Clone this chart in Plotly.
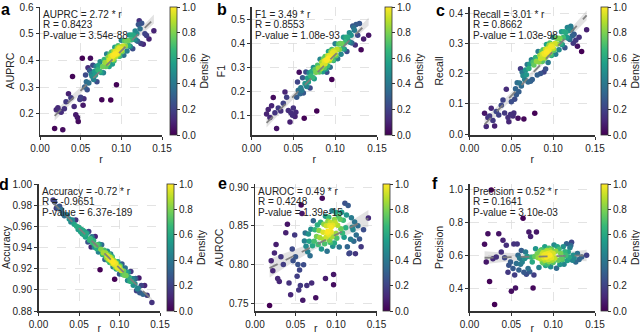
import numpy as np
import plotly.graph_objects as go

# shared x values (r) for every panel
r = [0.018, 0.020, 0.022, 0.024, 0.026, 0.028, 0.030, 0.032, 0.035, 0.038,
     0.040, 0.042, 0.044, 0.046, 0.047, 0.049, 0.050, 0.052, 0.053, 0.054,
     0.055, 0.056, 0.057, 0.058, 0.059, 0.060, 0.061, 0.062, 0.063, 0.064,
     0.065, 0.066, 0.067, 0.068, 0.069, 0.070, 0.071, 0.072, 0.073, 0.074,
     0.075, 0.076, 0.077, 0.078, 0.079, 0.080, 0.081, 0.082, 0.083, 0.084,
     0.085, 0.085, 0.086, 0.087, 0.087, 0.088, 0.088, 0.089, 0.089, 0.090,
     0.090, 0.091, 0.091, 0.092, 0.092, 0.093, 0.093, 0.094, 0.094, 0.095,
     0.095, 0.096, 0.096, 0.097, 0.097, 0.098, 0.098, 0.099, 0.100, 0.100,
     0.101, 0.102, 0.103, 0.104, 0.105, 0.106, 0.107, 0.108, 0.109, 0.110,
     0.111, 0.112, 0.113, 0.114, 0.115, 0.116, 0.117, 0.118, 0.119, 0.120,
     0.121, 0.122, 0.123, 0.124, 0.125, 0.127, 0.129, 0.131, 0.134, 0.140]

auprc = [0.144, 0.215, 0.222, 0.210, 0.205, 0.140, 0.218, 0.245, 0.275, 0.260,
         0.339, 0.227, 0.196, 0.186, 0.171, 0.253, 0.262, 0.408, 0.232, 0.256,
         0.300, 0.345, 0.320, 0.290, 0.372, 0.315, 0.362, 0.408, 0.350, 0.340,
         0.382, 0.328, 0.359, 0.344, 0.378, 0.320, 0.365, 0.381, 0.360, 0.395,
         0.354, 0.252, 0.377, 0.353, 0.403, 0.392, 0.377, 0.424, 0.389, 0.412,
         0.377, 0.401, 0.424, 0.251, 0.416, 0.405, 0.431, 0.386, 0.419, 0.417,
         0.404, 0.433, 0.398, 0.424, 0.449, 0.414, 0.434, 0.424, 0.308, 0.446,
         0.428, 0.424, 0.455, 0.416, 0.443, 0.450, 0.415, 0.443, 0.438, 0.475,
         0.432, 0.454, 0.419, 0.473, 0.454, 0.473, 0.435, 0.473, 0.456, 0.495,
         0.452, 0.477, 0.495, 0.443, 0.494, 0.479, 0.510, 0.476, 0.501, 0.472,
         0.534, 0.548, 0.518, 0.463, 0.539, 0.460, 0.500, 0.493, 0.480, 0.511]

f1 = [0.105, 0.124, 0.090, 0.140, 0.174, 0.110, 0.044, 0.130, 0.118, 0.150,
      0.197, 0.175, 0.120, 0.072, 0.110, 0.100, 0.130, 0.095, 0.112, 0.175,
      0.239, 0.205, 0.280, 0.190, 0.215, 0.204, 0.257, 0.193, 0.087, 0.233,
      0.281, 0.220, 0.256, 0.239, 0.278, 0.214, 0.265, 0.283, 0.259, 0.300,
      0.253, 0.292, 0.280, 0.118, 0.310, 0.298, 0.281, 0.335, 0.295, 0.322,
      0.282, 0.310, 0.337, 0.299, 0.327, 0.316, 0.346, 0.294, 0.332, 0.331,
      0.280, 0.349, 0.308, 0.339, 0.367, 0.328, 0.351, 0.338, 0.301, 0.365,
      0.345, 0.250, 0.376, 0.332, 0.362, 0.370, 0.330, 0.364, 0.357, 0.400,
      0.350, 0.377, 0.337, 0.399, 0.376, 0.401, 0.356, 0.400, 0.380, 0.427,
      0.377, 0.406, 0.427, 0.367, 0.427, 0.409, 0.446, 0.406, 0.436, 0.403,
      0.474, 0.468, 0.456, 0.395, 0.481, 0.435, 0.485, 0.375, 0.420, 0.436]

recall = [0.069, 0.025, 0.055, 0.060, 0.085, 0.045, 0.027, 0.075, 0.063, 0.095,
          0.113, 0.070, 0.148, 0.055, 0.041, 0.065, 0.107, 0.060, 0.070, 0.115,
          0.150, 0.130, 0.170, 0.052, 0.140, 0.169, 0.216, 0.159, 0.204, 0.193,
          0.050, 0.180, 0.212, 0.196, 0.230, 0.172, 0.217, 0.232, 0.175, 0.246,
          0.180, 0.238, 0.228, 0.069, 0.253, 0.241, 0.195, 0.273, 0.238, 0.260,
          0.200, 0.250, 0.272, 0.240, 0.264, 0.253, 0.279, 0.205, 0.267, 0.264,
          0.251, 0.280, 0.215, 0.271, 0.296, 0.261, 0.281, 0.270, 0.237, 0.293,
          0.275, 0.270, 0.301, 0.262, 0.289, 0.295, 0.260, 0.289, 0.283, 0.320,
          0.277, 0.299, 0.264, 0.317, 0.298, 0.317, 0.279, 0.316, 0.299, 0.338,
          0.295, 0.319, 0.338, 0.285, 0.336, 0.320, 0.352, 0.317, 0.342, 0.313,
          0.356, 0.346, 0.325, 0.300, 0.330, 0.310, 0.290, 0.320, 0.273, 0.345]

accuracy = [0.985, 0.983, 0.977, 0.978, 0.979, 0.976, 0.972, 0.970, 0.971, 0.967,
            0.964, 0.966, 0.962, 0.966, 0.960, 0.957, 0.959, 0.955, 0.957, 0.953,
            0.956, 0.952, 0.955, 0.950, 0.953, 0.9538, 0.9451, 0.9551, 0.9468, 0.9484,
            0.9405, 0.9502, 0.9442, 0.9467, 0.9403, 0.9504, 0.9421, 0.9389, 0.9426, 0.9358,
            0.9431, 0.919, 0.9384, 0.9425, 0.9333, 0.9350, 0.9375, 0.9287, 0.9348, 0.9304,
            0.9365, 0.9321, 0.9278, 0.9334, 0.9290, 0.9307, 0.9259, 0.9339, 0.9279, 0.9280,
            0.9304, 0.9249, 0.9313, 0.9261, 0.9217, 0.9278, 0.9242, 0.9258, 0.910, 0.9215,
            0.9247, 0.9252, 0.9196, 0.9264, 0.9216, 0.9201, 0.9265, 0.9209, 0.9218, 0.9150,
            0.9227, 0.9183, 0.9244, 0.9144, 0.9177, 0.9138, 0.9206, 0.9135, 0.9163, 0.9088,
            0.9165, 0.9117, 0.9082, 0.9174, 0.9079, 0.9104, 0.9044, 0.9105, 0.9057, 0.9106,
            0.8991, 0.9007, 0.9016, 0.9112, 0.8973, 0.9042, 0.8959, 0.9041, 0.895, 0.888]

auroc = [0.747, 0.805, 0.792, 0.815, 0.826, 0.782, 0.778, 0.810, 0.800, 0.841,
         0.852, 0.776, 0.761, 0.820, 0.805, 0.838, 0.810, 0.785, 0.800, 0.767,
         0.793, 0.773, 0.877, 0.866, 0.754, 0.7996, 0.8305, 0.8406, 0.8235, 0.773,
         0.8165, 0.8393, 0.8302, 0.8115, 0.8456, 0.776, 0.8242, 0.8567, 0.8300, 0.8449,
         0.757, 0.8362, 0.8511, 0.8260, 0.8441, 0.8350, 0.8547, 0.8200, 0.8855, 0.8418,
         0.8327, 0.8519, 0.8267, 0.782, 0.8624, 0.8357, 0.8501, 0.8410, 0.8170, 0.8559,
         0.8431, 0.8388, 0.8612, 0.8313, 0.8505, 0.8542, 0.8286, 0.8483, 0.8419, 0.8696,
         0.8360, 0.8508, 0.8236, 0.787, 0.774, 0.8582, 0.8278, 0.8539, 0.8400, 0.8672,
         0.8341, 0.8506, 0.8623, 0.8228, 0.8585, 0.8461, 0.8674, 0.8407, 0.8572, 0.8353,
         0.8790, 0.8475, 0.8640, 0.8229, 0.8762, 0.814, 0.815, 0.8328, 0.8605, 0.8482,
         0.845, 0.830, 0.855, 0.814, 0.838, 0.850, 0.833, 0.823, 0.845, 0.860]

precision = [0.668, 0.560, 0.732, 0.440, 1.000, 0.580, 0.300, 0.590, 0.732, 0.620,
             0.692, 0.585, 0.662, 0.497, 0.540, 0.560, 0.380, 0.520, 0.670, 0.480,
             0.400, 0.550, 0.670, 0.600, 0.510, 0.583, 0.545, 0.630, 0.560, 0.827,
             0.497, 0.581, 0.620, 0.485, 0.593, 0.520, 0.742, 0.500, 0.715, 0.588,
             0.560, 0.400, 0.480, 0.593, 0.640, 0.742, 0.610, 0.585, 0.526, 0.623,
             0.591, 0.580, 0.635, 0.560, 0.608, 0.617, 0.553, 0.601, 0.585, 0.653,
             0.570, 0.607, 0.538, 0.630, 0.590, 0.624, 0.547, 0.612, 0.575, 0.644,
             0.561, 0.600, 0.629, 0.530, 0.618, 0.585, 0.638, 0.570, 0.612, 0.556,
             0.664, 0.584, 0.625, 0.521, 0.653, 0.570, 0.638, 0.544, 0.612, 0.580,
             0.573, 0.653, 0.545, 0.622, 0.599, 0.671, 0.568, 0.621, 0.588, 0.646,
             0.660, 0.680, 0.570, 0.600, 0.585, 0.560, 0.612, 0.575, 0.590, 0.600]

W, H = 640, 334
FONT = "Liberation Sans, Arial, sans-serif"
DARK = "#333333"


def density(x, y):
    # gaussian kde (scott bandwidth), scaled to 0..1
    pts = np.vstack([x, y])
    n = pts.shape[1]
    cov = np.cov(pts) * n ** (-1 / 3)
    inv = np.linalg.inv(cov)
    d = pts[:, :, None] - pts[:, None, :]
    q = np.einsum("ijk,il,ljk->jk", d, inv, d)
    z = np.exp(-0.5 * q).sum(axis=1)
    return (z - z.min()) / (z.max() - z.min())


def fit(x, y):
    b, a = np.polyfit(x, y, 1)
    xs = np.linspace(x.min(), x.max(), 60)
    yh = a + b * xs
    res = y - (a + b * x)
    s = np.sqrt((res ** 2).sum() / (len(x) - 2))
    se = s * np.sqrt(1 / len(x) + (xs - x.mean()) ** 2 / ((x - x.mean()) ** 2).sum())
    return xs, yh, 1.97 * se


panels = [
    dict(y=auprc, title="AUPRC", letter="a",
         stats=["AUPRC = 2.72 * r", "R = 0.8423", "P-value = 3.54e-88"],
         yr=[0.12, 0.6], t0=0.2, dt=0.1, fmt=".1f",
         px=(40, 162), py=(7, 135), cb=170, lp=(5, 9), box=72),
    dict(y=f1, title="F1", letter="b",
         stats=["F1 = 3.49 * r", "R = 0.8553", "P-value = 1.08e-93"],
         yr=[0.017, 0.554], t0=0.1, dt=0.1, fmt=".1f",
         px=(251.5, 377), py=(7, 135), cb=385, lp=(222, 9), box=76),
    dict(y=recall, title="Recall", letter="c",
         stats=["Recall = 3.01 * r", "R = 0.8662", "P-value = 1.03e-98"],
         yr=[-0.003, 0.42], t0=0.0, dt=0.1, fmt=".1f",
         px=(469.5, 595), py=(7, 135), cb=601, lp=(440, 10), box=76),
    dict(y=accuracy, title="Accuracy", letter="d",
         stats=["Accuracy = -0.72 * r", "R = -0.9651", "P-value = 6.37e-189"],
         yr=[0.88, 1.0], t0=0.88, dt=0.02, fmt=".2f",
         px=(38.5, 160), py=(184, 311), cb=167, lp=(4, 184), box=79),
    dict(y=auroc, title="AUROC", letter="e",
         stats=["AUROC = 0.49 * r", "R = 0.4248", "P-value = 1.39e-15"],
         yr=[0.74, 0.904], t0=0.75, dt=0.05, fmt=".2f",
         px=(255, 376.5), py=(184, 311), cb=383, lp=(222, 183), box=75),
    dict(y=precision, title="Precision", letter="f",
         stats=["Precision = 0.52 * r", "R = 0.1641", "P-value = 3.10e-03"],
         yr=[0.26, 1.036], t0=0.4, dt=0.2, fmt=".1f",
         px=(469.5, 595), py=(184, 311), cb=601, lp=(435, 183), box=75),
]

fig = go.Figure()
layout = dict(width=W, height=H, margin=dict(l=0, r=0, t=0, b=0, autoexpand=False),
              paper_bgcolor="white", plot_bgcolor="white", showlegend=False,
              font=dict(family=FONT, size=10, color="#222222"))
annotations = []
shapes = []
x = np.array(r)

for i, p in enumerate(panels):
    k = "" if i == 0 else str(i + 1)
    y = np.array(p["y"])
    dens = density(x, y)
    order = np.argsort(dens)
    xs, yh, ci = fit(x, y)

    xd = [p["px"][0] / W, p["px"][1] / W]
    yd = [1 - p["py"][1] / H, 1 - p["py"][0] / H]

    fig.add_trace(go.Scatter(
        x=np.concatenate([xs, xs[::-1]]), y=np.concatenate([yh + ci, (yh - ci)[::-1]]),
        fill="toself", fillcolor="rgba(190,190,190,0.45)", line=dict(width=0),
        mode="lines", hoverinfo="skip", xaxis="x" + k, yaxis="y" + k))
    fig.add_trace(go.Scatter(
        x=x[order], y=y[order], mode="markers", xaxis="x" + k, yaxis="y" + k,
        marker=dict(size=5.5, color=dens[order], colorscale="Viridis", cmin=0, cmax=1,
                    line=dict(width=0),
                    colorbar=dict(
                        x=p["cb"] / W, xanchor="left", xpad=0, ypad=0,
                        y=yd[1], yanchor="top", len=yd[1] - yd[0], lenmode="fraction",
                        thickness=7, outlinewidth=0.8, outlinecolor=DARK,
                        ticks="outside", ticklen=3, tickcolor=DARK,
                        tickvals=[0, 0.2, 0.4, 0.6, 0.8, 1.0], tickformat=".1f",
                        tickfont=dict(size=10, family=FONT, color="#222222"),
                        title=dict(text="Density", side="right",
                                   font=dict(size=10.5, family=FONT, color="#222222"))))))
    fig.add_trace(go.Scatter(
        x=xs, y=yh, mode="lines", hoverinfo="skip", xaxis="x" + k, yaxis="y" + k,
        line=dict(color="rgba(125,125,125,0.95)", width=1.8, dash="dash")))

    common = dict(showline=True, linewidth=1.5, linecolor=DARK, mirror=False,
                  showgrid=True, gridcolor="#dcdcdc", gridwidth=0.8, griddash="dash",
                  zeroline=False, ticks="outside", ticklen=3, tickwidth=1, tickcolor=DARK,
                  tickfont=dict(size=10, family=FONT, color="#222222"), automargin=False)
    layout["xaxis" + k] = dict(common, domain=xd, anchor="y" + k, range=[0, 0.15],
                               tick0=0, dtick=0.05, tickformat=".2f",
                               title=dict(text="r", standoff=3,
                                          font=dict(size=10.5, family=FONT, color="#222222")))
    layout["yaxis" + k] = dict(common, domain=yd, anchor="x" + k, range=p["yr"],
                               tick0=p["t0"], dtick=p["dt"], tickformat=p["fmt"],
                               title=dict(text=p["title"], standoff=3,
                                          font=dict(size=10.5, family=FONT, color="#222222")))

    # stats text box
    shapes.append(dict(type="rect", xref="paper", yref="paper", layer="between",
                       x0=xd[0] + 1 / W, x1=xd[0] + p["box"] / W,
                       y0=yd[1] - 35 / H, y1=yd[1] - 1 / H,
                       fillcolor="rgba(255,255,255,0.8)", line=dict(width=0)))
    for j, s in enumerate(p["stats"]):
        annotations.append(dict(text=s, xref="paper", yref="paper", showarrow=False,
                                x=xd[0] + 1 / W, y=yd[1] - (j * 10.3) / H,
                                xanchor="left", yanchor="top",
                                font=dict(size=10, family=FONT, color="#222222")))
    annotations.append(dict(text="<b>" + p["letter"] + "</b>", xref="paper", yref="paper",
                            showarrow=False, x=p["lp"][0] / W, y=1 - p["lp"][1] / H,
                            xanchor="center", yanchor="middle",
                            font=dict(size=16, family=FONT, color="black")))

layout["annotations"] = annotations
layout["shapes"] = shapes
fig.update_layout(**layout)
# page body has a default margin; remove it so the figure sits at the window corner
fig.write_html("out.html", config={"staticPlot": True},
               post_script="document.body.style.margin='0';document.body.style.padding='0';")
